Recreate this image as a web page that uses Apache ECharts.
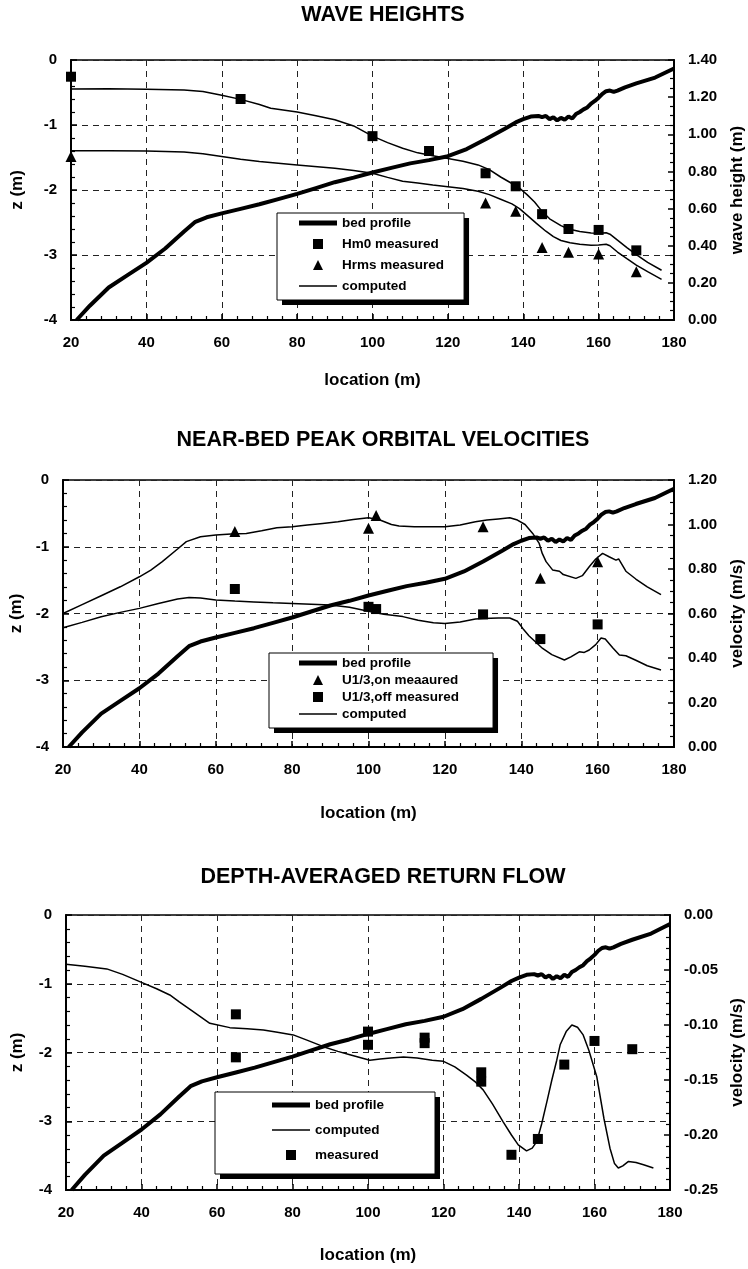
<!DOCTYPE html>
<html>
<head>
<meta charset="utf-8">
<script src="https://cdn.jsdelivr.net/npm/echarts@6/dist/echarts.min.js"></script>
<style>
  html, body { margin: 0; padding: 0; background: #fff; }
  #chart { width: 748px; height: 1269px; }
</style>
</head>
<body>
<div id="chart"></div>
<script>
// bed profile z (m) against location (m), shared by all three panels
const bedProfile = [
  [21.5, -4.0], [25, -3.78], [30, -3.5], [35, -3.31], [40, -3.12], [45, -2.9], [50, -2.64],
  [53, -2.49], [56, -2.42], [60, -2.36], [65, -2.29], [70, -2.22], [75, -2.14], [80, -2.06],
  [85, -1.97], [90, -1.88], [95, -1.81], [100, -1.73], [105, -1.66], [110, -1.59], [115, -1.54],
  [120, -1.48], [125, -1.37], [130, -1.22], [135, -1.06], [138, -0.96], [140, -0.91], [142, -0.87],
  [144, -0.86], [145, -0.88], [146, -0.86], [147, -0.91], [148, -0.88], [149, -0.93], [150, -0.89],
  [151, -0.92], [152, -0.87], [153, -0.9], [154, -0.83], [155, -0.8], [156, -0.76], [157, -0.73],
  [158, -0.67], [159, -0.63], [160, -0.58], [161, -0.52], [162, -0.48], [163, -0.47], [164, -0.49],
  [165, -0.47], [167, -0.42], [170, -0.36], [175, -0.27], [180, -0.13]
];

// panel 1: wave heights (m)
const hm0Computed = [
  [20, 1.244], [30, 1.245], [40, 1.243], [50, 1.238], [55, 1.23], [60, 1.21], [65, 1.188],
  [70, 1.16], [73, 1.14], [80, 1.12], [85, 1.1], [90, 1.078], [95, 1.045], [100, 0.99],
  [104, 0.955], [108, 0.925], [112, 0.9], [116, 0.885], [120, 0.87], [124, 0.855], [128, 0.835],
  [131, 0.81], [134, 0.77], [137, 0.735], [139, 0.71], [141, 0.675], [143, 0.635], [145, 0.585],
  [147, 0.545], [150, 0.508], [152, 0.49], [155, 0.476], [158, 0.468], [160, 0.467], [162, 0.47],
  [163, 0.462], [165, 0.43], [167.5, 0.39], [170, 0.352], [173, 0.31], [176.7, 0.268]
];
const hrmsComputed = [
  [20, 0.912], [30, 0.912], [40, 0.91], [50, 0.905], [55, 0.895], [60, 0.88], [65, 0.865],
  [70, 0.853], [80, 0.835], [90, 0.817], [95, 0.805], [100, 0.79], [104, 0.768], [108, 0.747],
  [112, 0.738], [116, 0.727], [120, 0.718], [124, 0.708], [128, 0.693], [131, 0.675], [134, 0.65],
  [137, 0.625], [139, 0.6], [141, 0.565], [143.5, 0.52], [146, 0.478], [148, 0.449], [150, 0.428],
  [152.4, 0.416], [155, 0.408], [158, 0.403], [160, 0.404], [162, 0.408], [163, 0.4], [165, 0.366],
  [167.5, 0.33], [170, 0.296], [173, 0.26], [176.7, 0.219]
];
const hm0Measured = [
  [20, 1.31], [65, 1.19], [100, 0.99], [115, 0.91], [130, 0.79], [138, 0.72], [145, 0.57],
  [152, 0.49], [160, 0.485], [170, 0.375]
];
const hrmsMeasured = [
  [20, 0.88], [130, 0.63], [138, 0.585], [145, 0.39], [152, 0.365], [160, 0.355], [170, 0.26]
];

// panel 2: near-bed peak orbital velocities (m/s)
const uOnComputed = [
  [20, 0.6], [25, 0.64], [30, 0.68], [35, 0.72], [40, 0.765], [43, 0.795], [46, 0.833], [50, 0.89],
  [52.3, 0.923], [56, 0.945], [60, 0.953], [64, 0.957], [68, 0.96], [72, 0.972], [76, 0.985],
  [80, 0.99], [84, 0.998], [88, 1.005], [92, 1.012], [96, 1.022], [100, 1.03], [103, 1.02],
  [106, 1.0], [108, 0.993], [112, 0.99], [116, 0.99], [120, 0.99], [124, 0.998], [128, 1.012],
  [131, 1.02], [134, 1.025], [137, 1.03], [139, 1.02], [141, 1.0], [143, 0.96], [144.7, 0.915],
  [145.5, 0.87], [146.5, 0.833], [148.2, 0.796], [150, 0.79], [151, 0.775], [154.3, 0.758],
  [156, 0.77], [157.8, 0.81], [159.5, 0.845], [161.3, 0.87], [163, 0.855], [164.8, 0.84],
  [165.5, 0.845], [167.4, 0.79], [170, 0.755], [173, 0.72], [176.6, 0.685]
];
const uOffComputed = [
  [20, 0.536], [25, 0.56], [30, 0.585], [35, 0.605], [40, 0.623], [45, 0.645], [50, 0.665],
  [53, 0.672], [56, 0.67], [60, 0.661], [65, 0.656], [70, 0.652], [75, 0.648], [80, 0.645],
  [85, 0.642], [90, 0.638], [95, 0.628], [100, 0.61], [104, 0.597], [109, 0.586], [113, 0.57],
  [117, 0.558], [120, 0.555], [124, 0.562], [128, 0.575], [130, 0.578], [134, 0.58], [137, 0.58],
  [139, 0.565], [140.4, 0.533], [142, 0.5], [145.6, 0.443], [148, 0.415], [151.3, 0.391],
  [153, 0.405], [155.2, 0.428], [156.5, 0.425], [157.8, 0.436], [159.5, 0.46], [160.9, 0.49],
  [162, 0.485], [164, 0.445], [165.7, 0.413], [167.4, 0.41], [170, 0.39], [173, 0.365], [176.6, 0.346]
];
const uOnMeasured = [[65, 0.968], [100, 0.983], [102, 1.04], [130, 0.99], [145, 0.758], [160, 0.833]];
const uOffMeasured = [[65, 0.71], [100, 0.63], [102, 0.62], [130, 0.596], [145, 0.485], [160, 0.551]];

// panel 3: depth-averaged return flow (m/s)
const returnComputed = [
  [20, -0.0448], [25, -0.0465], [30.8, -0.049], [35, -0.054], [40, -0.0612], [44, -0.067],
  [47.5, -0.0727], [50, -0.079], [53.7, -0.0879], [58.1, -0.0985], [63.4, -0.1024], [68, -0.1035],
  [72.3, -0.1045], [76, -0.1065], [80.2, -0.109], [84, -0.114], [88.2, -0.1197], [92, -0.124],
  [95.2, -0.127], [100.5, -0.132], [103.2, -0.131], [106, -0.13], [109.4, -0.129], [113, -0.13],
  [117, -0.132], [120, -0.133], [123, -0.138], [126.1, -0.1455], [128.5, -0.152], [130.5, -0.159],
  [133, -0.172], [135.8, -0.188], [138, -0.2], [139.8, -0.209], [142, -0.2145], [143.5, -0.212],
  [144.7, -0.206], [146, -0.19], [147.5, -0.168], [148.7, -0.15], [150, -0.132], [150.9, -0.118],
  [152.5, -0.106], [154, -0.1], [155.5, -0.102], [157, -0.109], [158.5, -0.123], [160.6, -0.147],
  [162.5, -0.185], [164.1, -0.212], [165.3, -0.226], [166.3, -0.23], [167.5, -0.228], [169, -0.224],
  [171, -0.225], [173, -0.227], [175.6, -0.23]
];
const returnMeasured = [
  [65, -0.0903], [65, -0.1294], [100, -0.106], [100, -0.118], [115, -0.1115], [115, -0.1165],
  [130, -0.143], [130, -0.1515], [138, -0.218], [145, -0.2036], [152, -0.136], [160, -0.1145],
  [170, -0.122]
];

const panelTitles = ['WAVE HEIGHTS', 'NEAR-BED PEAK ORBITAL VELOCITIES', 'DEPTH-AVERAGED RETURN FLOW'];
const rightAxisNames = ['wave height (m)', 'velocity (m/s)', 'velocity (m/s)'];
const rightAxisRanges = [[0, 1.4, 0.2], [0, 1.2, 0.2], [-0.25, 0, 0.05]];
const legendNames = [
  ['bed profile', 'Hm0 measured', 'Hrms measured', 'computed'],
  ['bed profile', 'U1/3,on meaaured', 'U1/3,off measured', 'computed'],
  ['bed profile', 'computed', 'measured']
];

const FONT = "'Liberation Sans', Arial, sans-serif";
const SQUARE = 'path://M0,0H10V10H0Z';
const TRIANGLE = 'path://M5,0L10,10H0Z';
const THICK_LINE = 'path://M0,0H38V5H0Z';
const THIN_LINE = 'path://M0,0H38V1.5H0Z';

const layout = [
  { grid: { left: 71, right: 74, top: 60, height: 260 }, titleY: 15, xNameGap: 52, leftNameGap: 45, rightNameGap: 55,
    legend: { left: 277, top: 213, padding: [3, 20, 7, 22], itemGap: 7 } },
  { grid: { left: 63, right: 74, top: 480, height: 267 }, titleY: 440, xNameGap: 58, leftNameGap: 37, rightNameGap: 55,
    legend: { left: 269, top: 653, padding: [3, 34, 7, 30], itemGap: 3 } },
  { grid: { left: 66, right: 78, top: 915, height: 275 }, titleY: 877, xNameGap: 57, leftNameGap: 40, rightNameGap: 59,
    legend: { left: 215, top: 1092, padding: [6, 51, 12, 57], itemGap: 11 } }
];

const labelStyle = { color: '#000', fontFamily: FONT, fontWeight: 'bold', fontSize: 15 };
const nameStyle = { color: '#000', fontFamily: FONT, fontWeight: 'bold', fontSize: 17 };
const dashed = { show: true, lineStyle: { color: '#222', width: 1, type: [6, 5] } };

function xAxisFor(i) {
  return {
    type: 'value', gridIndex: i, min: 20, max: 180, interval: 20,
    name: 'location (m)', nameLocation: 'middle', nameGap: layout[i].xNameGap, nameTextStyle: nameStyle,
    axisLine: { show: true, onZero: false, lineStyle: { color: '#000', width: 2 } },
    axisTick: { show: true, inside: true, length: 6, lineStyle: { color: '#000', width: 1.5 } },
    minorTick: { show: true, splitNumber: 5, length: 4, lineStyle: { color: '#000', width: 1.2 } },
    axisLabel: Object.assign({ margin: 15 }, labelStyle),
    splitLine: dashed
  };
}

function leftAxisFor(i) {
  return {
    type: 'value', gridIndex: i, position: 'left', min: -4, max: 0, interval: 1,
    name: 'z (m)', nameLocation: 'middle', nameRotate: 90, nameGap: layout[i].leftNameGap, nameTextStyle: nameStyle,
    axisLine: { show: true, onZero: false, lineStyle: { color: '#000', width: 2 } },
    axisTick: { show: true, inside: true, length: 6, lineStyle: { color: '#000', width: 1.5 } },
    minorTick: { show: true, splitNumber: 5, length: 4, lineStyle: { color: '#000', width: 1.2 } },
    axisLabel: Object.assign({ margin: 14 }, labelStyle),
    splitLine: dashed
  };
}

function rightAxisFor(i) {
  const r = rightAxisRanges[i];
  return {
    type: 'value', gridIndex: i, position: 'right', min: r[0], max: r[1], interval: r[2],
    name: rightAxisNames[i], nameLocation: 'middle', nameRotate: 90, nameGap: layout[i].rightNameGap, nameTextStyle: nameStyle,
    axisLine: { show: true, onZero: false, lineStyle: { color: '#000', width: 2 } },
    axisTick: { show: true, inside: true, length: 6, lineStyle: { color: '#000', width: 1.5 } },
    minorTick: { show: true, splitNumber: i === 2 ? 5 : 4, length: 4, lineStyle: { color: '#000', width: 1.2 } },
    axisLabel: Object.assign({ margin: 14, formatter: v => v.toFixed(2) }, labelStyle),
    splitLine: { show: false }
  };
}

function lineSeries(name, data, i, right, width) {
  return {
    type: 'line', name, data, xAxisIndex: i, yAxisIndex: i * 2 + (right ? 1 : 0),
    symbol: 'none', smooth: false, silent: true,
    lineStyle: { color: '#000', width }, itemStyle: { color: '#000' }
  };
}

function scatterSeries(name, data, i, symbol, size) {
  return {
    type: 'scatter', name, data, xAxisIndex: i, yAxisIndex: i * 2 + 1,
    symbol, symbolSize: size, silent: true, itemStyle: { color: '#000', opacity: 1 }
  };
}

function legendIcon(name) {
  if (name === 'bed profile') return THICK_LINE;
  if (name === 'computed') return THIN_LINE;
  if (name === 'Hrms measured' || name === 'U1/3,on meaaured') return TRIANGLE;
  return SQUARE;
}

// shadow = a black copy of the legend box, shifted down-right and drawn underneath
function legendFor(i, shadow) {
  const l = layout[i].legend;
  const off = shadow ? 5 : 0;
  return {
    left: l.left + off, top: l.top + off, padding: l.padding, itemGap: l.itemGap, z: shadow ? 3 : 5,
    orient: 'vertical', align: 'left', itemWidth: 38, itemHeight: 10, selectedMode: false,
    backgroundColor: shadow ? '#000' : '#fff', borderColor: '#000', borderWidth: shadow ? 0 : 1,
    textStyle: { color: shadow ? 'rgba(0,0,0,0)' : '#000', fontFamily: FONT, fontWeight: 'bold', fontSize: 13.5 },
    data: legendNames[i].map(name => ({ name, icon: legendIcon(name), itemStyle: { color: '#000', opacity: 1 } }))
  };
}

const series = [
  lineSeries('bed profile', bedProfile, 0, false, 4),
  lineSeries('computed', hm0Computed, 0, true, 1.5),
  lineSeries('computed', hrmsComputed, 0, true, 1.5),
  scatterSeries('Hm0 measured', hm0Measured, 0, 'rect', 10),
  scatterSeries('Hrms measured', hrmsMeasured, 0, 'triangle', 11),

  lineSeries('bed profile', bedProfile, 1, false, 4),
  lineSeries('computed', uOnComputed, 1, true, 1.5),
  lineSeries('computed', uOffComputed, 1, true, 1.5),
  scatterSeries('U1/3,on meaaured', uOnMeasured, 1, 'triangle', 11),
  scatterSeries('U1/3,off measured', uOffMeasured, 1, 'rect', 10),

  lineSeries('bed profile', bedProfile, 2, false, 4),
  lineSeries('computed', returnComputed, 2, true, 1.5),
  scatterSeries('measured', returnMeasured, 2, 'rect', 10)
];

const chart = echarts.init(document.getElementById('chart'), null, { renderer: 'canvas' });
chart.setOption({
  animation: false,
  backgroundColor: '#fff',
  graphic: panelTitles.map((text, i) => ({
    type: 'text', x: 383, y: layout[i].titleY, silent: true,
    style: { text, fill: '#000', fontFamily: FONT, fontWeight: 'bold', fontSize: 21.5, align: 'center', verticalAlign: 'middle' }
  })),
  grid: layout.map(p => Object.assign({ show: true, borderColor: '#000', borderWidth: 1.5, outerBoundsMode: 'none' }, p.grid)),
  xAxis: [0, 1, 2].map(xAxisFor),
  yAxis: [0, 1, 2].flatMap(i => [leftAxisFor(i), rightAxisFor(i)]),
  legend: [0, 1, 2].flatMap(i => [legendFor(i, true), legendFor(i, false)]),
  series
});
</script>
</body>
</html>
